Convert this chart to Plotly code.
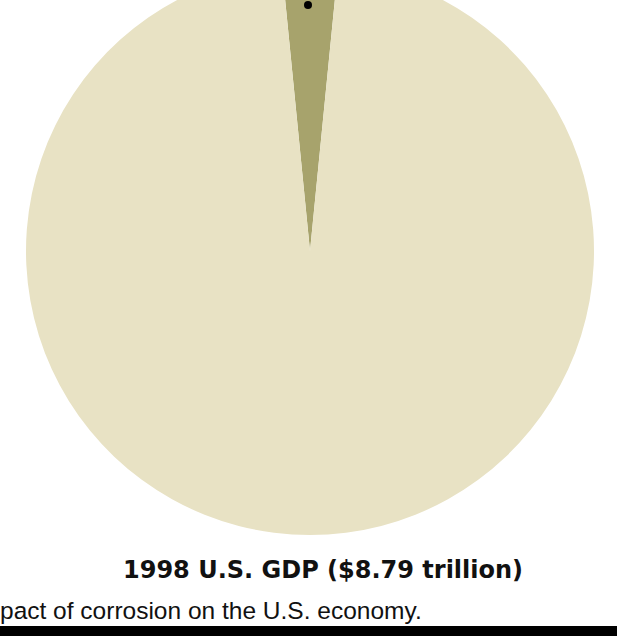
import plotly.graph_objects as go

# Share of 1998 U.S. GDP taken by the direct cost of corrosion ($ billions)
labels = ["Direct cost of corrosion", "Rest of GDP"]
values = [276, 8514]
colors = ["#A7A36C", "#E8E2C4"]

title_text = "<b>1998 U.S. GDP ($8.79 trillion)</b>"
caption_text = "pact of corrosion on the U.S. economy."

W, H = 617, 669          # figure is taller than the view; top 33px sit above it
SHIFT = 33

corrosion_angle = values[0] / sum(values) * 360.0

fig = go.Figure(
    go.Pie(
        labels=labels,
        values=values,
        sort=False,
        direction="clockwise",
        rotation=-corrosion_angle / 2,
        marker=dict(colors=colors, line=dict(width=0)),
        textinfo="none",
        hoverinfo="label+value+percent",
        showlegend=False,
        domain=dict(x=[26 / W, 594 / W], y=[1 - 568 / H, 1]),
    )
)


def py(page_y):
    """Paper y for a position measured from the top of the visible area."""
    return 1 - (page_y + SHIFT) / H


# callout dot on the corrosion wedge
fig.add_shape(
    type="circle", xref="paper", yref="paper",
    x0=(308 - 4) / W, x1=(308 + 4) / W, y0=py(5 + 4), y1=py(5 - 4),
    fillcolor="black", line=dict(width=0),
)

# black rule along the bottom
fig.add_shape(
    type="rect", xref="paper", yref="paper",
    x0=0, x1=1, y0=py(636), y1=py(626),
    fillcolor="black", line=dict(width=0),
)

fig.add_annotation(
    text=title_text, xref="paper", yref="paper",
    x=323 / W, y=py(570), xanchor="center", yanchor="middle",
    showarrow=False,
    font=dict(family="DejaVu Sans, Verdana, sans-serif", size=24, color="#111111"),
)

fig.add_annotation(
    text=caption_text, xref="paper", yref="paper",
    x=-2 / W, y=py(610), xanchor="left", yanchor="middle",
    showarrow=False,
    font=dict(family="Liberation Sans, Arial, sans-serif", size=24.5, color="#111111"),
)

fig.update_layout(
    width=W, height=H,
    margin=dict(l=0, r=0, t=0, b=0),
    paper_bgcolor="white",
    plot_bgcolor="white",
)

fig.write_html(
    "out.html",
    post_script="var d=document.getElementById('{plot_id}'); d.style.marginTop='-%dpx';" % SHIFT,
)
